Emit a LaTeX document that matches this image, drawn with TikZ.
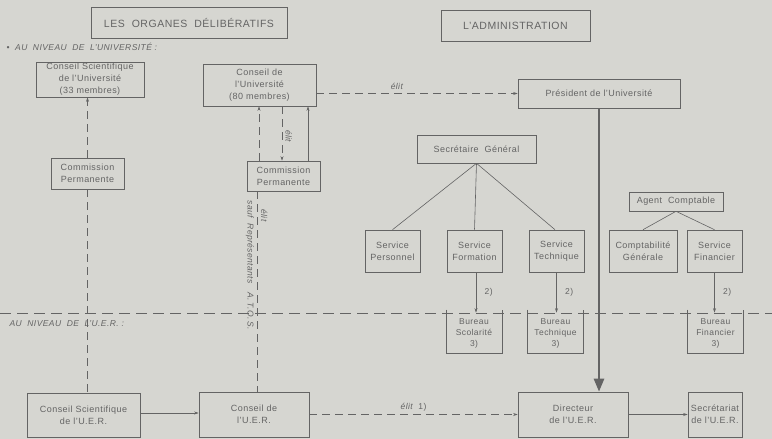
\documentclass[tikz,border=0pt]{standalone}
\usepackage{fontspec}
\setmainfont{Liberation Sans}[LetterSpace=5]
\usetikzlibrary{arrows.meta}

\definecolor{paper}{RGB}{214,214,209}
\definecolor{ink}{RGB}{100,100,100}

\tikzset{
  box/.style={draw, align=center, inner sep=0pt, font=\fontsize{9}{12}\selectfont},
  service/.style={box, minimum width=55pt, minimum height=42pt},
  bureau/.style={align=center, inner sep=0pt, minimum width=55pt, minimum height=40pt,
    font=\fontsize{8.5}{11}\selectfont},
  titlebox/.style={draw, inner sep=0pt, font=\fontsize{10.5}{12}\selectfont},
  level/.style={anchor=west, font=\fontsize{8.5}{10}\selectfont\itshape},
  elit/.style={font=\fontsize{8.5}{10}\selectfont\itshape},
  dashline/.style={dash pattern=on 8pt off 5pt},
  sep/.style={dash pattern=on 11pt off 6pt},
}

\begin{document}
\begin{tikzpicture}[x=1pt, y=-1pt, color=ink, line width=0.6pt,
  >={Stealth[length=4.5pt,width=3pt]}]
  \fill[paper] (0,0) rectangle (772,439);
  \useasboundingbox (0,0) rectangle (772,439);

  % titres
  \node[titlebox, minimum width=196pt, minimum height=31pt] (delib) at (189,22.5)
    {LES\ \ ORGANES\ \ DÉLIBÉRATIFS};
  \node[titlebox, minimum width=149pt, minimum height=31pt] (admin) at (515.5,25.5)
    {L'ADMINISTRATION};
  \node[level] (nivu) at (3,47) {\textbullet\ \ AU\ \ NIVEAU\ \ DE\ \ L'UNIVERSITÉ\ :};
  \node[level] (nivuer) at (6,324) {AU\ \ NIVEAU\ \ DE\ \ L'U.E.R.\ :};

  % niveau de l'universite
  \node[box, minimum width=108pt, minimum height=35pt] (csu) at (90,79.5)
    {Conseil Scientifique\\de l'Université\\(33 membres)};
  \node[box, minimum width=113pt, minimum height=42pt] (cu) at (259.5,85)
    {Conseil de\\l'Université\\(80 membres)};
  \node[box, minimum width=162pt, minimum height=29pt] (pres) at (599,93.5)
    {Président de l'Université};
  \node[box, minimum width=73pt, minimum height=31pt] (cpl) at (87.5,173.5)
    {Commission\\Permanente};
  \node[box, minimum width=73pt, minimum height=30pt] (cpr) at (283.5,176)
    {Commission\\Permanente};
  \node[box, minimum width=119pt, minimum height=28pt] (sg) at (476.5,149)
    {Secrétaire\ \ Général};
  \node[service] (sp) at (392.5,251) {Service\\Personnel};
  \node[service] (sf) at (474.5,251) {Service\\Formation};
  \node[service] (st) at (556.5,251) {Service\\Technique};
  \node[box, minimum width=94pt, minimum height=19pt] (ac) at (676,201.5)
    {Agent\ \ Comptable};
  \node[service, minimum width=68pt] (cg) at (643,251) {Comptabilité\\Générale};
  \node[service] (sfin) at (714.5,251) {Service\\Financier};

  % separation des niveaux
  \draw[sep] (0,313) -- (772,313);

  % niveau de l'U.E.R.
  \node[bureau] (bs) at (474,333) {Bureau\\Scolarité\\3)};
  \node[bureau] (bt) at (555.5,333) {Bureau\\Technique\\3)};
  \node[bureau] (bf) at (715.5,333) {Bureau\\Financier\\3)};
  \foreach \b in {bs,bt,bf}
    \draw ([yshift=3pt]\b.north west) -- (\b.south west) -- (\b.south east)
      -- ([yshift=3pt]\b.north east);
  \node[box, minimum width=113pt, minimum height=44pt] (csuer) at (83.5,415)
    {Conseil Scientifique\\de l'U.E.R.};
  \node[box, minimum width=110pt, minimum height=45pt] (cuer) at (254,414.5)
    {Conseil de\\l'U.E.R.};
  \node[box, minimum width=110pt, minimum height=45pt] (dir) at (573,414.5)
    {Directeur\\de l'U.E.R.};
  \node[box, minimum width=54pt, minimum height=45pt] (sec) at (715,414.5)
    {Secrétariat\\de l'U.E.R.};

  % liaisons
  \draw[dashline,->] (cpl.north) -- (cpl.north |- csu.south);
  \draw[dashline] (cpl.south) -- (cpl.south |- csuer.north);
  \draw[dashline,->] ([xshift=-24.5pt]cpr.north) -- ([xshift=-24.5pt]cpr.north |- cu.south);
  \draw[dashline,->] ([xshift=-1.5pt]cpr.north |- cu.south) -- ([xshift=-1.5pt]cpr.north)
    node[elit, pos=0.55, sloped, above] {élit};
  \draw[->] ([xshift=24.5pt]cpr.north) -- ([xshift=24.5pt]cpr.north |- cu.south);
  \draw[dashline] ([xshift=-26pt]cpr.south) -- ([xshift=-26pt]cpr.south |- cuer.north)
    node[elit, pos=0.12, sloped, above] {élit}
    node[elit, pos=0.37, sloped, below] {sauf\ \ Représentants\ \ \ A.\,T.\,O.\,S.};
  \draw[dashline,->] (pres.west -| cu.east) -- (pres.west)
    node[elit, pos=0.4, above] {élit};
  \draw (sg.south) -- (sp.north);
  \draw (sg.south) -- (sf.north);
  \draw (sg.south) -- ([xshift=-1.5pt]st.north);
  \draw (ac.south) -- (cg.north);
  \draw (ac.south) -- (sfin.north);
  \draw[->] ([xshift=1.5pt]sf.south) -- ([xshift=1.5pt]sf.south |- bs.north)
    node[elit, pos=0.5, right=5pt, font=\fontsize{8.5}{10}\selectfont] {2)};
  \draw[->] (st.south) -- (st.south |- bt.north)
    node[elit, pos=0.5, right=5pt, font=\fontsize{8.5}{10}\selectfont] {2)};
  \draw[->] (sfin.south) -- (sfin.south |- bf.north)
    node[elit, pos=0.5, right=5pt, font=\fontsize{8.5}{10}\selectfont] {2)};
  \draw[line width=2.5pt, -{Triangle[length=13pt,width=10pt]}] (pres.south)
    -- (pres.south |- dir.north);
  \draw[->] ([yshift=2pt]csuer.east) -- ([yshift=2pt]csuer.east -| cuer.west);
  \draw[dashline,->] (cuer.east) -- (cuer.east -| dir.west)
    node[elit, pos=0.5, above] {élit\ \ \upshape 1)};
  \draw[->] (dir.east) -- (sec.west);
\end{tikzpicture}
\end{document}
